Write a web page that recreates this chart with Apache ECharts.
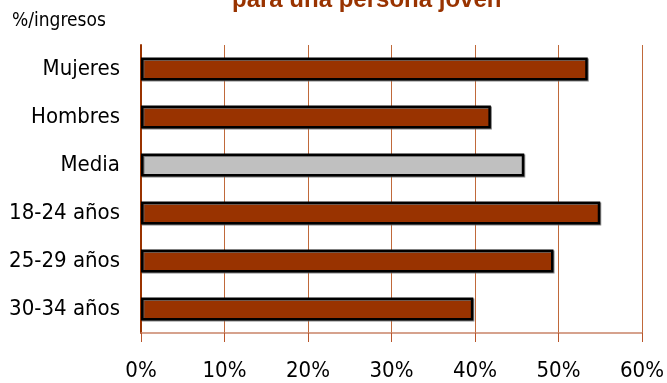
<!DOCTYPE html>
<html>
<head>
<meta charset="utf-8">
<script src="https://cdn.jsdelivr.net/npm/echarts@6/dist/echarts.min.js"></script>
<style>
html,body{margin:0;padding:0;background:#fff;}
#chart{width:667px;height:383px;}
</style>
</head>
<body>
<div id="chart"></div>
<script>
var categories = ['Mujeres', 'Hombres', 'Media', '18-24 años', '25-29 años', '30-34 años'];
var values = [53.5, 41.9, 45.9, 55.0, 49.4, 39.8];
var highlight = 'Media';
var xTicks = [0, 10, 20, 30, 40, 50, 60];
var titleText = 'para una persona joven';
var unitText = '%/ingresos';

var FONT = '"DejaVu Sans Condensed", "Liberation Sans Narrow", sans-serif';
var chart = echarts.init(document.getElementById('chart'));

var data = categories.map(function (c, i) {
  return {
    value: values[i],
    itemStyle: { color: c === highlight ? '#c0c0c0' : '#993300' }
  };
});

chart.setOption({
  animation: false,
  backgroundColor: '#ffffff',
  grid: { left: 141, right: 24, top: 45, bottom: 50, containLabel: false },
  graphic: [
    {
      type: 'text', left: 232, top: -12,
      style: { text: titleText, font: 'bold 24px "Liberation Sans", Arial, sans-serif', fill: '#993300' }
    },
    {
      type: 'text', left: 12, top: 12,
      style: { text: unitText, font: '19px ' + FONT, fill: '#000000' }
    }
  ],
  xAxis: {
    type: 'value',
    min: xTicks[0],
    max: xTicks[xTicks.length - 1],
    interval: 10,
    axisLine: { show: true, lineStyle: { color: '#c98468', width: 1.5 } },
    axisTick: { show: true, length: 9, lineStyle: { color: '#b8552a', width: 1 } },
    axisLabel: {
      margin: 27, color: '#000', fontSize: 22, fontFamily: FONT,
      formatter: function (v) { return v + '%'; }
    },
    splitLine: { show: true, lineStyle: { color: '#c0693a', width: 1 } }
  },
  yAxis: {
    type: 'category',
    data: categories,
    inverse: true,
    axisLine: { show: true, lineStyle: { color: '#993300', width: 2 } },
    axisTick: { show: false },
    axisLabel: { margin: 21, color: '#000', fontSize: 22, fontFamily: FONT }
  },
  series: [{
    type: 'bar',
    data: data,
    barWidth: 23,
    itemStyle: {
      borderColor: '#000000',
      borderWidth: 2.5,
      shadowColor: 'rgba(100,100,100,0.8)',
      shadowOffsetX: 1,
      shadowOffsetY: 1,
      shadowBlur: 0
    }
  }]
});
</script>
</body>
</html>
